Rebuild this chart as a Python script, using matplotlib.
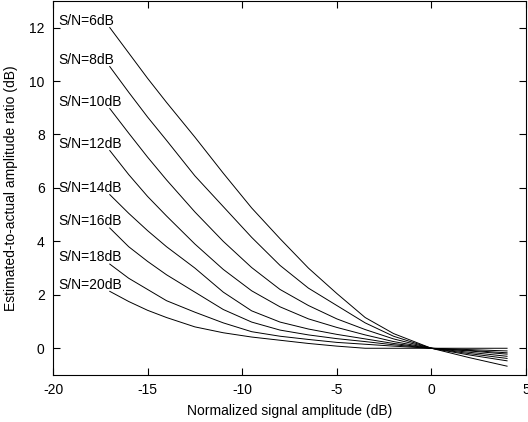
import numpy as np
import matplotlib
matplotlib.use("Agg")
import matplotlib.pyplot as plt

plt.rcParams['font.family'] = ['Liberation Sans', 'DejaVu Sans']
plt.rcParams['font.size'] = 10
plt.rcParams['axes.unicode_minus'] = False

# normalized signal amplitude (dB), shared by all curves
x_db = [-17, -16, -15, -14, -12.5, -11, -9.5, -8, -6.5, -5, -3.5, -2, 0, 2, 4]

snr_labels = ['S/N=6dB', 'S/N=8dB', 'S/N=10dB', 'S/N=12dB',
              'S/N=14dB', 'S/N=16dB', 'S/N=18dB', 'S/N=20dB']

# estimated-to-actual amplitude ratio (dB) for each S/N
snr6 = [12.0, 11.05, 10.1, 9.2, 7.9, 6.55, 5.25, 4.1, 3.0, 2.05, 1.15, 0.55, 0, -0.35, -0.67]
snr8 = [10.54, 9.58, 8.65, 7.78, 6.45, 5.3, 4.15, 3.1, 2.25, 1.6, 0.95, 0.45, 0, -0.25, -0.47]
snr10 = [8.97, 8.05, 7.15, 6.3, 5.1, 4.0, 3.02, 2.2, 1.6, 1.1, 0.7, 0.35, 0, -0.2, -0.38]
snr12 = [7.4, 6.5, 5.68, 4.95, 3.9, 2.95, 2.15, 1.55, 1.1, 0.78, 0.5, 0.25, 0, -0.15, -0.3]
snr14 = [5.75, 5.05, 4.4, 3.8, 3.0, 2.1, 1.4, 0.98, 0.72, 0.52, 0.35, 0.18, 0, -0.1, -0.22]
snr16 = [4.5, 3.8, 3.25, 2.75, 2.1, 1.45, 0.98, 0.68, 0.5, 0.36, 0.25, 0.13, 0, -0.08, -0.17]
snr18 = [3.15, 2.62, 2.2, 1.78, 1.35, 0.95, 0.62, 0.45, 0.33, 0.22, 0.15, 0.08, 0, -0.05, -0.1]
snr20 = [2.13, 1.75, 1.42, 1.15, 0.8, 0.58, 0.42, 0.3, 0.18, 0.08, 0.0, 0.0, 0, 0.0, 0.0]

curves = [snr6, snr8, snr10, snr12, snr14, snr16, snr18, snr20]

fig = plt.figure(figsize=(5.28, 4.22), dpi=100)
ax = fig.add_axes([0.1004, 0.1114, 0.8958, 0.8866])

for label, y in zip(snr_labels, curves):
    ax.plot(x_db, y, color='black', linewidth=0.7)
    # label sits just above the start of each curve
    ax.text(-19.7, y[0] + 0.25, label, ha='left', va='center', fontsize=10)

ax.set_xlim(-20, 5)
ax.set_ylim(-1, 13)
ax.set_xticks([-20, -15, -10, -5, 0, 5])
ax.set_yticks([0, 2, 4, 6, 8, 10, 12])
ax.tick_params(direction='in', top=True, right=True, length=5, width=0.8,
               labelsize=10, pad=6)
for s in ax.spines.values():
    s.set_linewidth(0.8)

ax.set_xlabel('Normalized signal amplitude (dB)', labelpad=5)
ax.set_ylabel('Estimated-to-actual amplitude ratio (dB)', labelpad=8)

fig.savefig('out.png', dpi=100)
